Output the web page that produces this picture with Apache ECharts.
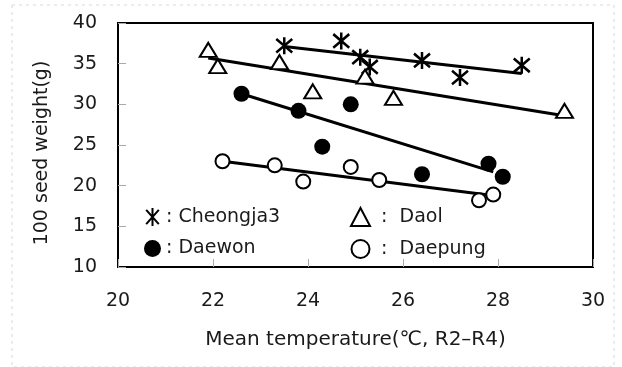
<!DOCTYPE html>
<html>
<head>
<meta charset="utf-8">
<script src="https://cdn.jsdelivr.net/npm/echarts@6/dist/echarts.min.js"></script>
<style>
html,body{margin:0;padding:0;background:#fff;}
#chart{width:622px;height:367px;}
</style>
</head>
<body>
<div id="chart"></div>
<script>
// ---- data ----
var seriesNames = ['Cheongja3', 'Daol', 'Daewon', 'Daepung'];

var cheongjaX = [23.5, 24.7, 25.1, 25.3, 26.4, 27.2, 28.5];
var cheongjaY = [37.2, 37.8, 35.8, 34.6, 35.4, 33.3, 34.8];
var cheongjaFitX = [23.5, 28.5];
var cheongjaFitY = [37.1, 33.8];

var daolX = [21.9, 22.1, 23.4, 24.1, 25.2, 25.8, 29.4];
var daolY = [36.7, 34.7, 35.2, 31.6, 33.4, 30.8, 29.2];
var daolFitX = [21.9, 29.3];
var daolFitY = [35.7, 28.7];

var daewonX = [22.6, 23.8, 24.3, 24.9, 26.4, 27.8, 28.1];
var daewonY = [31.3, 29.2, 24.8, 30.0, 21.4, 22.7, 21.1];
var daewonFitX = [22.6, 27.9];
var daewonFitY = [31.3, 21.7];

var daepungX = [22.2, 23.3, 23.9, 24.9, 25.5, 27.6, 27.9];
var daepungY = [23.0, 22.5, 20.5, 22.3, 20.7, 18.2, 18.9];
var daepungFitX = [22.2, 27.8];
var daepungFitY = [23.0, 18.85];

var xTicks = [20, 22, 24, 26, 28, 30];
var yTicks = [10, 15, 20, 25, 30, 35, 40];

var xTitle = 'Mean temperature(\u2103, R2\u2013R4)';
var yTitle = '100 seed weight(g)';

// ---- build ----
function pairs(xs, ys) { return xs.map(function (x, i) { return [x, ys[i]]; }); }

var FONT = 'DejaVu Sans';
var TXT = '#1a1a1a';
var starPath = 'path://M10 0L10 20M3 2L17 18M17 2L3 18';

function fitSeries(xs, ys) {
  return {
    type: 'line', data: pairs(xs, ys), symbol: 'none', silent: true, z: 2,
    lineStyle: { color: '#000', width: 3 }
  };
}

var chart = echarts.init(document.getElementById('chart'), null, { renderer: 'canvas' });
chart.setOption({
  animation: false,
  backgroundColor: '#fff',
  textStyle: { fontFamily: FONT },
  graphic: [{
    type: 'rect', shape: { x: 12, y: 5, width: 602, height: 362 }, silent: true,
    style: { fill: 'none', stroke: '#d8d8d8', lineWidth: 1, lineDash: [3, 4] }
  }, {
    type: 'text', x: 42, y: 153, rotation: Math.PI / 2, silent: true,
    style: { text: yTitle, fill: TXT, font: '19px "DejaVu Sans"', align: 'center', verticalAlign: 'middle' }
  }],
  grid: {
    left: 118, top: 23, right: 29, bottom: 100,
    show: true, borderColor: '#000', borderWidth: 2, backgroundColor: 'transparent'
  },
  xAxis: {
    type: 'value', min: xTicks[0], max: xTicks[xTicks.length - 1], interval: 2,
    name: xTitle, nameLocation: 'middle', nameGap: 63,
    nameTextStyle: { fontSize: 20, color: TXT, fontFamily: FONT },
    axisLine: { show: true, lineStyle: { color: '#000', width: 2 } },
    axisTick: { show: true, inside: true, length: 8, lineStyle: { color: '#aaa', width: 1 } },
    axisLabel: { fontSize: 19, color: TXT, margin: 25, fontFamily: FONT },
    splitLine: { show: false }
  },
  yAxis: {
    type: 'value', min: yTicks[0], max: yTicks[yTicks.length - 1], interval: 5,
    axisLine: { show: true, lineStyle: { color: '#000', width: 2 } },
    axisTick: { show: true, inside: true, length: 8, lineStyle: { color: '#aaa', width: 1 } },
    axisLabel: { fontSize: 19, color: TXT, margin: 21, fontFamily: FONT },
    splitLine: { show: false }
  },
  legend: [{
    data: [seriesNames[0], seriesNames[2]],
    orient: 'vertical', left: 139, top: 202, itemGap: 12,
    itemWidth: 17, itemHeight: 18,
    formatter: function (n) { return ': ' + n; },
    textStyle: { fontSize: 19, color: TXT, fontFamily: FONT }
  }, {
    data: [seriesNames[1], seriesNames[3]],
    orient: 'vertical', left: 345, top: 202, itemGap: 12,
    itemWidth: 19, itemHeight: 18,
    formatter: function (n) { return ' :  ' + n; },
    textStyle: { fontSize: 19, color: TXT, fontFamily: FONT }
  }],
  series: [
    fitSeries(cheongjaFitX, cheongjaFitY),
    fitSeries(daolFitX, daolFitY),
    fitSeries(daewonFitX, daewonFitY),
    fitSeries(daepungFitX, daepungFitY),
    {
      name: seriesNames[0], type: 'scatter', data: pairs(cheongjaX, cheongjaY), z: 5,
      symbol: starPath, symbolSize: [16, 17],
      itemStyle: { color: 'rgba(0,0,0,0)', borderColor: '#000', borderWidth: 2.6, opacity: 1 }
    },
    {
      name: seriesNames[1], type: 'scatter', data: pairs(daolX, daolY), z: 5,
      symbol: 'triangle', symbolSize: [17, 14],
      itemStyle: { color: '#fff', borderColor: '#000', borderWidth: 2, opacity: 1 }
    },
    {
      name: seriesNames[2], type: 'scatter', data: pairs(daewonX, daewonY), z: 5,
      symbol: 'circle', symbolSize: 16,
      itemStyle: { color: '#000', opacity: 1 }
    },
    {
      name: seriesNames[3], type: 'scatter', data: pairs(daepungX, daepungY), z: 5,
      symbol: 'circle', symbolSize: 14,
      itemStyle: { color: '#fff', borderColor: '#000', borderWidth: 2, opacity: 1 }
    }
  ]
});
</script>
</body>
</html>
